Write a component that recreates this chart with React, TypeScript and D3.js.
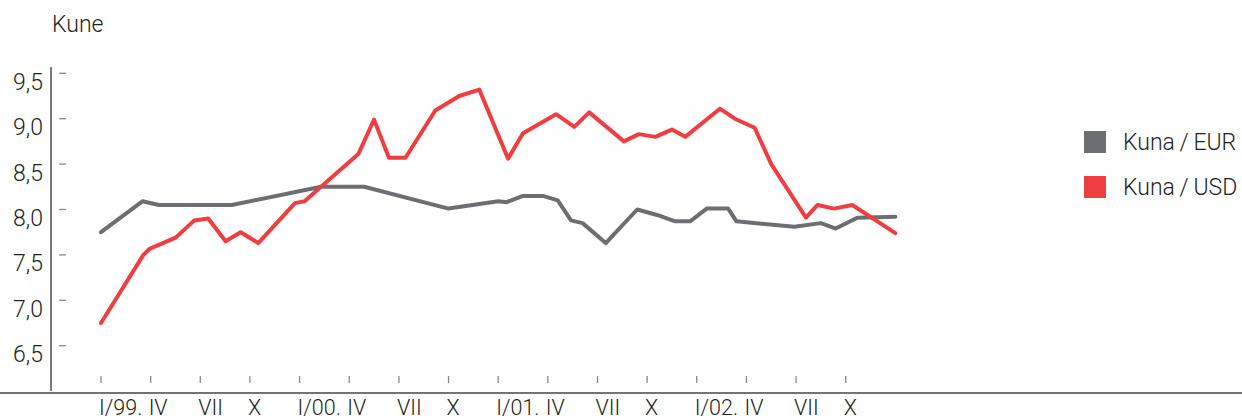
import React from "react";
import * as d3 from "d3";

// month offsets from I/99 and exchange rates
const eurMonths = [0, 2.5, 3.5, 7.9, 13.3, 15.9, 21, 24, 24.5, 25.5, 26.7, 27.6, 28.4, 29.1, 30.5, 32.4, 33.6, 34.7, 35.6, 36.6, 37.9, 38.4, 41.9, 43.5, 44.4, 45.7, 48];
const eurValues = [7.75, 8.09, 8.05, 8.05, 8.25, 8.25, 8.01, 8.09, 8.08, 8.15, 8.15, 8.1, 7.88, 7.85, 7.63, 8.0, 7.94, 7.87, 7.87, 8.01, 8.01, 7.87, 7.81, 7.85, 7.79, 7.91, 7.92];

const usdMonths = [0, 2.56, 2.96, 4.51, 5.64, 6.48, 7.53, 8.44, 9.5, 11.72, 12.3, 15.55, 16.5, 17.4, 18.4, 20.2, 21.65, 22.86, 24.6, 25.5, 27.5, 28.6, 29.5, 31.6, 32.5, 33.5, 34.5, 35.3, 37.4, 38.3, 39.5, 40.5, 42.6, 43.3, 44.3, 45.4, 48];
const usdValues = [6.75, 7.5, 7.57, 7.69, 7.88, 7.9, 7.65, 7.75, 7.63, 8.07, 8.09, 8.61, 8.99, 8.57, 8.57, 9.09, 9.25, 9.32, 8.56, 8.84, 9.05, 8.91, 9.07, 8.75, 8.83, 8.8, 8.88, 8.8, 9.11, 9.0, 8.9, 8.5, 7.91, 8.05, 8.01, 8.05, 7.74];

const xTickMonths = [0, 3, 6, 9, 12, 15, 18, 21, 24, 27, 30, 33, 36, 39, 42, 45];
const xTickLabels = ["I/99.", "IV", "VII", "X", "I/00.", "IV", "VII", "X", "I/01.", "IV", "VII", "X", "I/02.", "IV", "VII", "X"];
const yTicks = [6.5, 7.0, 7.5, 8.0, 8.5, 9.0, 9.5];

const seriesNames = ["Kuna\u2009/\u2009EUR", "Kuna\u2009/\u2009USD"];
const seriesColors = ["#6d6e71", "#ef3e42"];

const font = "Roboto, 'Liberation Sans', Arial, sans-serif";

export default function App() {
  const width = 1242;
  const height = 420;

  const x = d3.scaleLinear().domain([0, 45]).range([101, 845.7]);
  const y = d3.scaleLinear().domain([6.5, 9.5]).range([345.7, 73.3]);

  const line = d3
    .line<[number, number]>()
    .x((d) => x(d[0]))
    .y((d) => y(d[1]));

  const eur = eurMonths.map((m, i) => [m, eurValues[i]] as [number, number]);
  const usd = usdMonths.map((m, i) => [m, usdValues[i]] as [number, number]);
  const fmt = (v: number) => d3.format(".1f")(v).replace(".", ",");

  return (
    <svg
      width={width}
      height={height}
      style={{ position: "absolute", left: 0, top: 0, background: "#fff" }}
      fontFamily={font}
    >
      <text x={52} y={32} fontSize={23} fontWeight={300} fill="#231f20">
        Kune
      </text>

      {/* y axis */}
      <line x1={51} x2={51} y1={67} y2={391} stroke="#333" strokeWidth={1.3} />
      {yTicks.map((t) => (
        <g key={t}>
          <line x1={59} x2={66} y1={y(t)} y2={y(t)} stroke="#888" strokeWidth={1.3} />
          <text
            x={43}
            y={y(t) + 16.5}
            textAnchor="end"
            fontSize={23}
            fontWeight={300}
            fill="#231f20"
          >
            {fmt(t)}
          </text>
        </g>
      ))}

      {/* x axis */}
      <line x1={0} x2={width} y1={393} y2={393} stroke="#444" strokeWidth={1.3} />
      {xTickMonths.map((m, i) => (
        <g key={i}>
          <line x1={x(m)} x2={x(m)} y1={376} y2={383} stroke="#888" strokeWidth={1.3} />
          <text x={x(m) - 2} y={415} fontSize={21.5} fontWeight={300} fill="#231f20">
            {xTickLabels[i]}
          </text>
        </g>
      ))}

      {/* lines */}
      <path
        d={line(eur) || ""}
        fill="none"
        stroke={seriesColors[0]}
        strokeWidth={4}
        strokeLinejoin="round"
        strokeLinecap="round"
      />
      <path
        d={line(usd) || ""}
        fill="none"
        stroke={seriesColors[1]}
        strokeWidth={4}
        strokeLinejoin="round"
        strokeLinecap="round"
      />

      {/* legend */}
      {seriesNames.map((name, i) => (
        <g key={name} transform={`translate(1084,${131 + i * 45})`}>
          <rect width={22} height={22} fill={seriesColors[i]} />
          <text x={39} y={19} fontSize={23} fontWeight={300} fill="#231f20">
            {name}
          </text>
        </g>
      ))}
    </svg>
  );
}
